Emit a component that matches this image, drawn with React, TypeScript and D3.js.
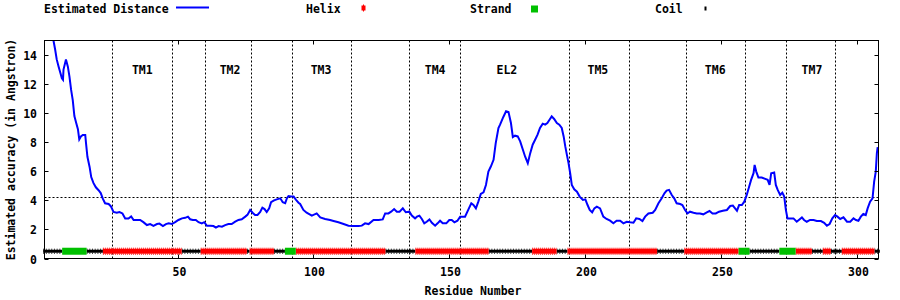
import React from "react";
import * as d3 from "d3";

// ---------- data ----------
const yTicks = [0, 2, 4, 6, 8, 10, 12, 14];
const xTicks = [50, 100, 150, 200, 250, 300];
const regionBoundaries = [26, 48, 60, 77, 92, 114, 135, 154, 194, 216, 237, 259, 274, 292];
const regionLabels = ["TM1", "TM2", "TM3", "TM4", "EL2", "TM5", "TM6", "TM7"];
const regionLabelPos = [37, 69.3, 102.8, 144.8, 171.2, 204.7, 247.9, 283.5];
const thresholdValue = 4.2;

const helixSegments: [number, number][] = [
  [23, 51], [59, 75], [77, 85], [94, 126], [138, 164], [181, 189],
  [194, 226], [237, 256], [278, 283], [288, 290], [295, 306],
];
const strandSegments: [number, number][] = [[8, 16], [90, 93], [257, 260], [272, 277]];
const coilSegments: [number, number][] = [
  [1, 7], [17, 22], [52, 58], [76, 76], [86, 89], [127, 137], [165, 180],
  [190, 193], [227, 236], [261, 271], [284, 287], [291, 294], [307, 308],
];

// [residue, estimated distance]
const distanceSeries: [number, number][] = [
  [1, 17.4], [2, 16.6], [3, 15.8], [4.3, 15.0], [4.9, 14.4], [5.5, 13.7], [6.2, 13.2], [6.8, 12.8],
  [7.4, 12.4], [7.8, 12.3], [8.0, 13.0], [8.9, 13.7], [9.6, 13.2], [10.2, 12.5], [10.8, 11.6],
  [11.4, 10.9], [12.0, 9.8], [12.7, 9.3], [13.3, 8.9], [13.8, 8.2], [14.4, 8.4], [15.1, 8.5],
  [16.0, 8.5], [16.3, 7.9], [16.8, 7.0], [17.6, 6.3], [18.2, 5.6], [19.0, 5.2], [19.9, 4.9],
  [20.9, 4.7], [21.7, 4.5], [22.5, 4.1], [23.3, 3.8], [24.6, 3.75], [25.4, 3.6], [26.4, 3.2],
  [27.6, 3.15], [28.6, 3.2], [29.7, 3.1], [30.7, 2.75], [31.9, 2.75], [32.9, 2.9], [33.8, 2.65],
  [35.0, 2.65], [36.2, 2.65], [37.4, 2.5], [38.7, 2.3], [39.9, 2.37], [41.1, 2.25], [42.4, 2.37],
  [43.3, 2.4], [44.6, 2.23], [45.7, 2.37], [46.7, 2.42], [47.9, 2.37], [49.1, 2.5], [50.3, 2.65],
  [51.6, 2.76], [52.8, 2.8], [53.8, 2.88], [54.6, 2.7], [55.6, 2.65], [56.7, 2.65], [57.7, 2.5],
  [58.9, 2.42], [59.8, 2.5], [60.8, 2.25], [62.0, 2.25], [63.2, 2.23], [64.1, 2.12], [65.1, 2.23],
  [66.3, 2.19], [67.5, 2.3], [68.7, 2.37], [69.9, 2.37], [71.2, 2.53], [72.4, 2.65], [73.6, 2.7],
  [74.9, 2.88], [75.7, 3.0], [76.7, 3.34], [77.6, 3.15], [78.5, 3.0], [79.4, 3.0], [80.4, 3.2],
  [81.2, 3.5], [82.0, 3.4], [82.8, 3.2], [83.7, 3.45], [84.4, 3.87], [85.5, 4.0], [86.5, 4.07],
  [87.8, 4.14], [88.7, 3.87], [89.6, 3.8], [90.2, 4.14], [90.8, 4.3], [91.7, 4.26], [92.7, 4.26],
  [93.6, 4.03], [94.5, 3.84], [95.1, 3.75],
  [96.3, 3.34], [97.5, 3.15], [99.4, 2.95], [101.2, 3.1], [102.5, 2.83], [104.3, 2.72], [106.1, 2.65],
  [107.4, 2.58], [109.2, 2.49], [111.1, 2.37], [112.9, 2.26], [114.7, 2.23], [116.6, 2.23],
  [117.8, 2.26], [119.0, 2.42], [120.3, 2.37], [122.1, 2.65], [124.0, 2.65], [125.5, 2.69],
  [126.4, 3.1], [127.6, 3.1], [128.6, 3.22], [129.7, 3.4], [130.7, 3.22], [131.7, 3.22],
  [132.9, 3.45], [134.0, 3.18], [135.3, 3.22], [136.2, 2.95], [137.4, 2.76], [138.1, 2.88],
  [139.0, 2.95], [139.9, 2.72], [140.8, 2.42], [141.7, 2.53], [142.7, 2.69], [143.6, 2.46],
  [144.8, 2.26], [145.7, 2.42], [146.6, 2.6], [147.6, 2.42], [148.9, 2.42], [150.0, 2.65],
  [150.9, 2.65], [151.9, 2.49], [153.0, 2.6], [154.0, 2.88], [155.8, 2.88], [157.1, 3.4],
  [158.1, 3.8], [158.9, 3.68], [159.8, 3.45], [160.7, 3.91], [161.6, 4.44], [162.6, 4.56],
  [163.5, 5.06], [164.4, 5.98], [165.3, 6.33], [166.3, 6.79], [167.1, 7.94], [168.1, 8.98],
  [168.7, 9.21], [169.9, 9.74], [170.9, 10.13], [171.8, 10.08], [172.7, 9.32], [173.4, 8.35],
  [174.2, 8.45], [175.2, 8.4], [176.1, 8.06], [177.1, 7.48], [177.9, 7.02], [178.9, 6.56],
  [179.8, 7.25], [180.7, 7.83], [181.6, 8.17], [182.5, 8.52], [183.4, 8.98], [184.4, 9.28],
  [185.3, 9.21], [186.1, 9.32], [186.9, 9.55], [187.7, 9.78], [188.6, 9.6], [189.6, 9.32],
  [190.5, 9.21], [191.4, 8.98], [192.1, 8.4], [192.7, 7.71], [193.3, 7.13], [193.9, 6.56],
  [194.5, 5.87], [195.1, 5.06], [196.0, 4.76], [197.0, 4.6], [198.0, 4.26], [199.2, 4.03],
  [200.1, 4.07], [200.9, 3.68], [201.7, 3.34], [202.6, 3.18], [203.4, 3.45], [204.3, 3.57],
  [205.5, 3.45],
  [206.7, 2.88], [207.9, 2.72], [209.2, 2.6], [210.4, 2.42], [211.6, 2.6], [212.9, 2.6],
  [214.1, 2.42], [215.3, 2.53], [216.6, 2.49], [217.8, 2.46], [218.8, 2.76], [220.0, 2.72],
  [221.1, 2.58], [222.1, 2.88], [223.3, 3.1], [224.9, 3.15], [225.8, 3.34], [227.0, 3.8],
  [228.2, 4.14], [229.2, 4.49], [230.0, 4.67], [230.9, 4.72], [231.9, 4.37], [232.8, 4.14],
  [233.7, 3.8], [235.0, 3.75], [235.8, 3.68], [236.8, 3.34], [237.7, 3.1], [238.6, 3.22],
  [239.9, 3.15], [241.1, 3.1], [242.3, 3.1], [243.5, 3.04], [244.8, 3.18], [245.8, 3.27],
  [246.9, 3.1], [248.1, 3.1], [249.3, 3.22], [250.7, 3.29], [252.2, 3.34], [253.4, 3.61],
  [254.4, 3.64], [255.2, 3.45], [255.9, 3.29], [256.7, 3.68], [257.7, 3.68], [258.6, 3.91],
  [259.5, 4.37], [260.4, 4.95], [261.1, 5.41], [262.0, 5.87], [262.4, 6.44], [263.0, 5.98],
  [263.8, 5.57], [265.0, 5.57], [266.3, 5.48], [267.2, 5.41], [267.9, 5.06], [268.5, 5.87],
  [269.6, 5.92], [270.2, 5.06], [270.9, 4.72], [271.8, 4.37], [272.6, 4.53], [273.3, 4.26],
  [273.9, 3.34], [274.5, 2.76], [275.5, 2.76], [276.7, 2.76], [277.9, 2.53], [278.9, 2.69],
  [279.8, 2.83], [280.6, 2.65], [281.6, 2.53], [282.8, 2.65], [284.1, 2.65], [285.3, 2.58],
  [286.8, 2.58], [288.0, 2.46], [289.0, 2.26], [290.0, 2.37], [291.0, 2.76], [292.0, 2.99],
  [292.9, 2.88], [293.9, 2.72], [295.1, 2.83], [296.4, 2.53], [297.6, 2.53], [298.8, 2.76],
  [299.7, 2.65], [300.6, 2.6], [301.5, 2.88], [302.4, 3.06], [303.3, 2.99], [304.0, 3.45],
  [304.9, 3.91], [305.8, 4.14], [306.4, 5.29], [307.0, 5.98], [307.4, 7.25], [307.7, 7.66],
];

// ---------- layout ----------
const W = 900;
const H = 300;
const L = 44.5;
const R = 878.5;
const T = 40.5;
const B = 258.5;
const FONT = "'DejaVu Sans Mono', 'Liberation Mono', monospace";
const FS = 11.5;

const x = d3.scaleLinear().domain([1, 308]).range([L, R]);
const y = d3.scaleLinear().domain([0, 15]).range([B, T]);

const line = d3
  .line<[number, number]>()
  .x((d) => x(d[0]))
  .y((d) => y(d[1]));

export default function App() {
  const bandY = y(0.5);
  const txt = { fontFamily: FONT, fontSize: FS, fontWeight: 700, fill: "#000" } as const;
  return (
    <svg
      width={W}
      height={H}
      style={{ position: "absolute", left: 0, top: 0, background: "#fff" }}
    >
      <defs>
        <clipPath id="plot">
          <rect x={L} y={T} width={R - L} height={B - T} />
        </clipPath>
      </defs>
      <rect x={0} y={0} width={W} height={H} fill="#fff" />

      {/* legend */}
      <text x={44} y={13} {...txt}>Estimated Distance</text>
      <line x1={176} x2={209} y1={7.5} y2={7.5} stroke="#0000ff" strokeWidth={2} />
      <text x={306} y={13} {...txt}>Helix</text>
      <rect x={361.5} y={5.5} width={4} height={5} fill="#ff0000" />
      <rect x={363} y={4.5} width={1} height={7} fill="#ff0000" />
      <text x={470} y={13} {...txt}>Strand</text>
      <rect x={531} y={5.5} width={7} height={7} fill="#00c000" />
      <text x={655} y={13} {...txt}>Coil</text>
      <rect x={704.5} y={6.5} width={2} height={4} fill="#000" />

      {/* region boundaries */}
      {regionBoundaries.map((r) => (
        <line
          key={"b" + r}
          x1={Math.round(x(r)) + 0.5}
          x2={Math.round(x(r)) + 0.5}
          y1={T}
          y2={B}
          stroke="#000"
          strokeWidth={1}
          strokeDasharray="2,2"
        />
      ))}
      <line
        x1={L}
        x2={R}
        y1={Math.round(y(thresholdValue)) + 0.5}
        y2={Math.round(y(thresholdValue)) + 0.5}
        stroke="#000"
        strokeWidth={1}
        strokeDasharray="2,2"
      />
      {regionLabels.map((lab, i) => (
        <text key={lab} x={x(regionLabelPos[i])} y={74} textAnchor="middle" {...txt}>
          {lab}
        </text>
      ))}

      {/* secondary structure */}
      {coilSegments.map(([a, b]) => (
        <g key={"c" + a}>
          <rect
            x={x(a - 0.5)}
            y={bandY - 1.5}
            width={x(b + 0.5) - x(a - 0.5)}
            height={3}
            fill="#000"
          />
          <line
            x1={x(a - 0.5)}
            x2={x(b + 0.5)}
            y1={bandY - 2}
            y2={bandY - 2}
            stroke="#000"
            strokeWidth={1}
            strokeDasharray="1,1.7"
          />
          <line
            x1={x(a - 0.5)}
            x2={x(b + 0.5)}
            y1={bandY + 2}
            y2={bandY + 2}
            stroke="#000"
            strokeWidth={1}
            strokeDasharray="1,1.7"
          />
        </g>
      ))}
      {helixSegments.map(([a, b]) => (
        <g key={"h" + a}>
          <rect
            x={x(a - 0.5)}
            y={bandY - 2.5}
            width={x(b + 0.5) - x(a - 0.5)}
            height={5}
            fill="#ff0000"
          />
          <line
            x1={x(a - 0.5)}
            x2={x(b + 0.5)}
            y1={bandY - 3}
            y2={bandY - 3}
            stroke="#ff0000"
            strokeWidth={1}
            strokeDasharray="1,1"
          />
          <line
            x1={x(a - 0.5)}
            x2={x(b + 0.5)}
            y1={bandY + 3}
            y2={bandY + 3}
            stroke="#ff0000"
            strokeWidth={1}
            strokeDasharray="1,1"
          />
        </g>
      ))}
      {strandSegments.map(([a, b]) => (
        <rect
          key={"s" + a}
          x={x(a - 0.5)}
          y={bandY - 3.5}
          width={x(b + 0.5) - x(a - 0.5)}
          height={7}
          fill="#00c000"
        />
      ))}

      {/* distance line */}
      <path
        d={line(distanceSeries) || ""}
        fill="none"
        stroke="#0000ff"
        strokeWidth={2}
        strokeLinejoin="miter"
        clipPath="url(#plot)"
      />

      {/* border */}
      <rect x={L} y={T} width={R - L} height={B - T} fill="none" stroke="#000" strokeWidth={1} />

      {/* y ticks */}
      {yTicks.map((v) => {
        const yy = Math.round(y(v)) + 0.5;
        return (
          <g key={"y" + v}>
            <line x1={L} x2={L + 4} y1={yy} y2={yy} stroke="#000" />
            <line x1={R - 4} x2={R} y1={yy} y2={yy} stroke="#000" />
            <text x={37} y={yy + 4} textAnchor="end" {...txt}>
              {v}
            </text>
          </g>
        );
      })}
      {/* x ticks */}
      {xTicks.map((v) => {
        const xx = Math.round(x(v)) + 0.5;
        return (
          <g key={"x" + v}>
            <line x1={xx} x2={xx} y1={B} y2={B - 4} stroke="#000" />
            <line x1={xx} x2={xx} y1={T} y2={T + 4} stroke="#000" />
            <text x={xx + 1} y={276} textAnchor="middle" {...txt}>
              {v}
            </text>
          </g>
        );
      })}

      {/* axis titles */}
      <text x={473} y={295} textAnchor="middle" {...txt}>
        Residue Number
      </text>
      <text
        transform={`translate(14.5, ${(T + B) / 2}) rotate(-90)`}
        textAnchor="middle"
        {...txt}
      >
        Estimated accuracy (in Angstron)
      </text>
    </svg>
  );
}
